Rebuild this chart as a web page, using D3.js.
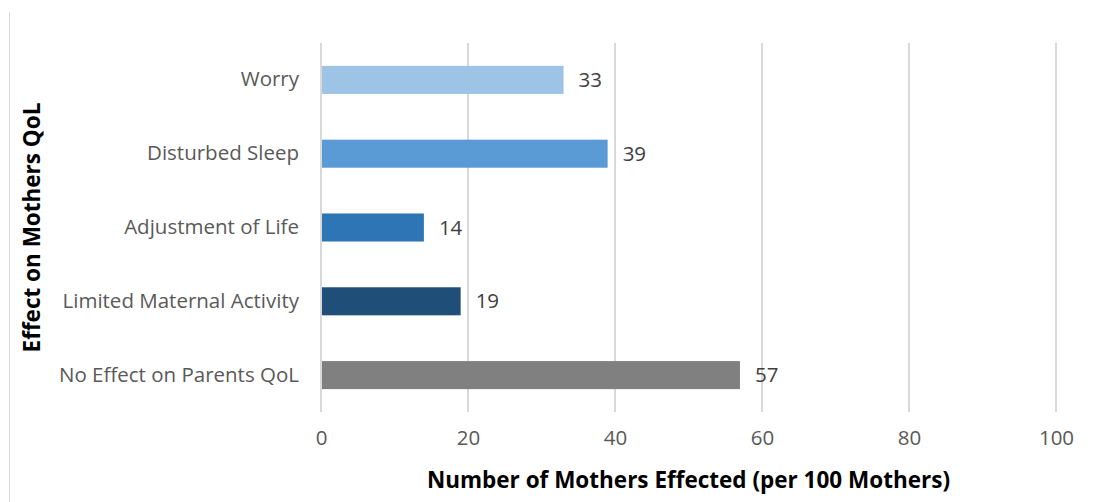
<!DOCTYPE html>
<html>
<head>
<meta charset="utf-8">
<script src="https://cdn.jsdelivr.net/npm/d3@7"></script>
<style>
  body { margin: 0; background: #fff; }
  text { font-family: "Open Sans", "Noto Sans", sans-serif; }
</style>
</head>
<body>
<svg id="chart"></svg>
<script>
// data
var categories = ["Worry", "Disturbed Sleep", "Adjustment of Life", "Limited Maternal Activity", "No Effect on Parents QoL"];
var values = [33, 39, 14, 19, 57];
var colors = ["#9dc3e6", "#5b9bd5", "#2e75b6", "#1f4e79", "#808080"];
var xTicks = [0, 20, 40, 60, 80, 100];

var W = 1104, H = 502;
var margin = {top: 43, right: 48, bottom: 90, left: 321};
var width = W - margin.left - margin.right,
    height = H - margin.top - margin.bottom;

var svg = d3.select("#chart").attr("width", W).attr("height", H);

// outer frame, only the left edge shows
svg.append("line")
    .attr("x1", 9.5).attr("x2", 9.5).attr("y1", 12).attr("y2", H)
    .attr("stroke", "#d9d9d9").attr("stroke-width", 1);

var g = svg.append("g")
    .attr("transform", "translate(" + margin.left + "," + margin.top + ")");

var x = d3.scaleLinear().domain([0, 100]).range([0, width]);
var y = d3.scaleBand().domain(categories).range([0, height]).paddingInner(0.62).paddingOuter(0.31);

// vertical gridlines
g.selectAll(".grid")
    .data(xTicks)
  .enter().append("line")
    .attr("x1", function(d) { return x(d); })
    .attr("x2", function(d) { return x(d); })
    .attr("y1", 0).attr("y2", height)
    .attr("stroke", "#d9d9d9").attr("stroke-width", 2);

// bars
g.selectAll(".bar")
    .data(values)
  .enter().append("rect")
    .attr("x", x(0) + 1)
    .attr("y", function(d, i) { return y(categories[i]); })
    .attr("width", function(d) { return x(d) - x(0) - 1; })
    .attr("height", y.bandwidth())
    .attr("fill", function(d, i) { return colors[i]; });

// value labels
g.selectAll(".val")
    .data(values)
  .enter().append("text")
    .attr("x", function(d) { return x(d) + 15; })
    .attr("y", function(d, i) { return y(categories[i]) + y.bandwidth() / 2; })
    .attr("dy", "0.35em")
    .attr("font-size", 20.5)
    .attr("fill", "#404040")
    .text(function(d) { return d; });

// category axis
var yAxis = g.append("g")
    .call(d3.axisLeft(y).tickSize(0).tickPadding(22));
yAxis.select(".domain").remove();
yAxis.selectAll("text").attr("font-size", 20.5).attr("fill", "#595959")
    .style("font-family", "'Open Sans', 'Noto Sans', sans-serif");

// value axis
var xAxis = g.append("g")
    .attr("transform", "translate(0," + height + ")")
    .call(d3.axisBottom(x).tickValues(xTicks).tickSize(0).tickPadding(18));
xAxis.select(".domain").remove();
xAxis.selectAll("text").attr("font-size", 20.5).attr("fill", "#595959")
    .style("font-family", "'Open Sans', 'Noto Sans', sans-serif");

// axis titles
svg.append("text")
    .attr("x", margin.left + width / 2)
    .attr("y", 488)
    .attr("text-anchor", "middle")
    .attr("font-size", 22.5)
    .attr("font-weight", "bold")
    .attr("fill", "#000")
    .text("Number of Mothers Effected (per 100 Mothers)");

svg.append("text")
    .attr("transform", "translate(40," + (margin.top + height / 2) + ") rotate(-90)")
    .attr("text-anchor", "middle")
    .attr("font-size", 22.5)
    .attr("font-weight", "bold")
    .attr("fill", "#000")
    .text("Effect on Mothers QoL");
</script>
</body>
</html>
